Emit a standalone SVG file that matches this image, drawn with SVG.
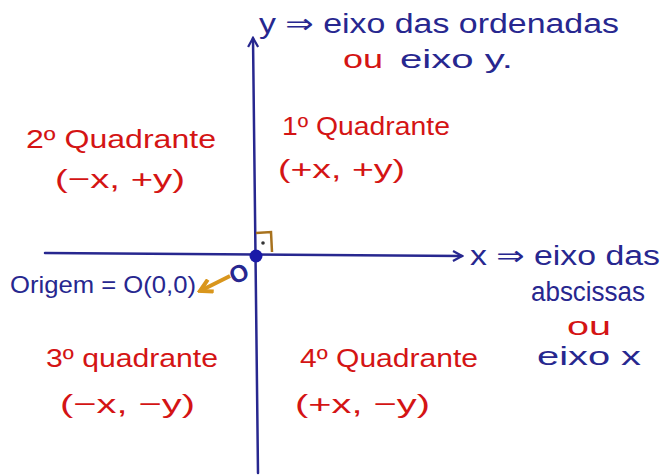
<svg xmlns="http://www.w3.org/2000/svg" width="665" height="475" viewBox="0 0 665 475">
<style>
text{font-family:"Liberation Sans","DejaVu Sans",sans-serif;}
.b{fill:#27278f;}
.r{fill:#d41414;}
.ax{stroke:#27278f;stroke-width:2.5;fill:none;stroke-linecap:round;}
</style>
<defs>
<marker id="ah" viewBox="0 0 12 12" refX="10" refY="6" markerWidth="12" markerHeight="12" markerUnits="userSpaceOnUse" orient="auto">
<path d="M1,1 L10,6 L1,11" fill="none" stroke="#27278f" stroke-width="2.2"/>
</marker>
<marker id="oh" viewBox="0 0 12 12" refX="10" refY="6" markerWidth="16" markerHeight="16" markerUnits="userSpaceOnUse" orient="auto">
<path d="M1,1 L10,6 L1,11" fill="none" stroke="#d9961c" stroke-width="3"/>
</marker>
</defs>
<rect width="665" height="475" fill="#fff"/>
<g id="connectors">
<path class="ax" d="M258,473 L253,38" marker-end="url(#ah)"/>
<path class="ax" d="M45,253 L462,256" marker-end="url(#ah)"/>
<path d="M230,276 L200,291" stroke="#d9961c" stroke-width="4" fill="none" marker-end="url(#oh)"/>
</g>
<g id="right-angle">
<path d="M256,233 L271,232 L272,252" fill="none" stroke="#a8721e" stroke-width="2.5"/>
<circle cx="263" cy="243" r="1.8" fill="#333"/>
</g>
<g id="origin">
<circle cx="256" cy="256" r="6.5" fill="#1a1aa8"/>
<text class="b" x="0" y="0" font-size="24" font-weight="bold" transform="translate(234,285) rotate(-25)">O</text>
<text class="b" x="10" y="293" font-size="24" textLength="186" lengthAdjust="spacingAndGlyphs">Origem = O(0,0)</text>
</g>
<g id="y-axis-label">
<text class="b" x="259" y="33" font-size="27" textLength="360" lengthAdjust="spacingAndGlyphs">y ⇒ eixo das ordenadas</text>
<text class="r" x="343" y="68" font-size="26" textLength="40" lengthAdjust="spacingAndGlyphs">ou</text>
<text class="b" x="400" y="68" font-size="26" textLength="113" lengthAdjust="spacingAndGlyphs">eixo y.</text>
</g>
<g id="x-axis-label">
<text class="b" x="470" y="265" font-size="27" textLength="190" lengthAdjust="spacingAndGlyphs">x ⇒ eixo das</text>
<text class="b" x="531" y="301" font-size="27" textLength="114" lengthAdjust="spacingAndGlyphs">abscissas</text>
<text class="r" x="567" y="335" font-size="26" textLength="44" lengthAdjust="spacingAndGlyphs">ou</text>
<text class="b" x="537" y="365" font-size="26" textLength="104" lengthAdjust="spacingAndGlyphs">eixo x</text>
</g>
<g id="q2">
<text class="r" x="26" y="148" font-size="26" textLength="190" lengthAdjust="spacingAndGlyphs">2º Quadrante</text>
<text class="r" x="55" y="188" font-size="26" textLength="130" lengthAdjust="spacingAndGlyphs">(−x, +y)</text>
</g>
<g id="q1">
<text class="r" x="282" y="135" font-size="26" textLength="168" lengthAdjust="spacingAndGlyphs">1º Quadrante</text>
<text class="r" x="278" y="178" font-size="26" textLength="127" lengthAdjust="spacingAndGlyphs">(+x, +y)</text>
</g>
<g id="q3">
<text class="r" x="46" y="367" font-size="26" textLength="172" lengthAdjust="spacingAndGlyphs">3º quadrante</text>
<text class="r" x="60" y="413" font-size="26" textLength="135" lengthAdjust="spacingAndGlyphs">(−x, −y)</text>
</g>
<g id="q4">
<text class="r" x="300" y="367" font-size="26" textLength="178" lengthAdjust="spacingAndGlyphs">4º Quadrante</text>
<text class="r" x="295" y="413" font-size="26" textLength="135" lengthAdjust="spacingAndGlyphs">(+x, −y)</text>
</g>
</svg>
